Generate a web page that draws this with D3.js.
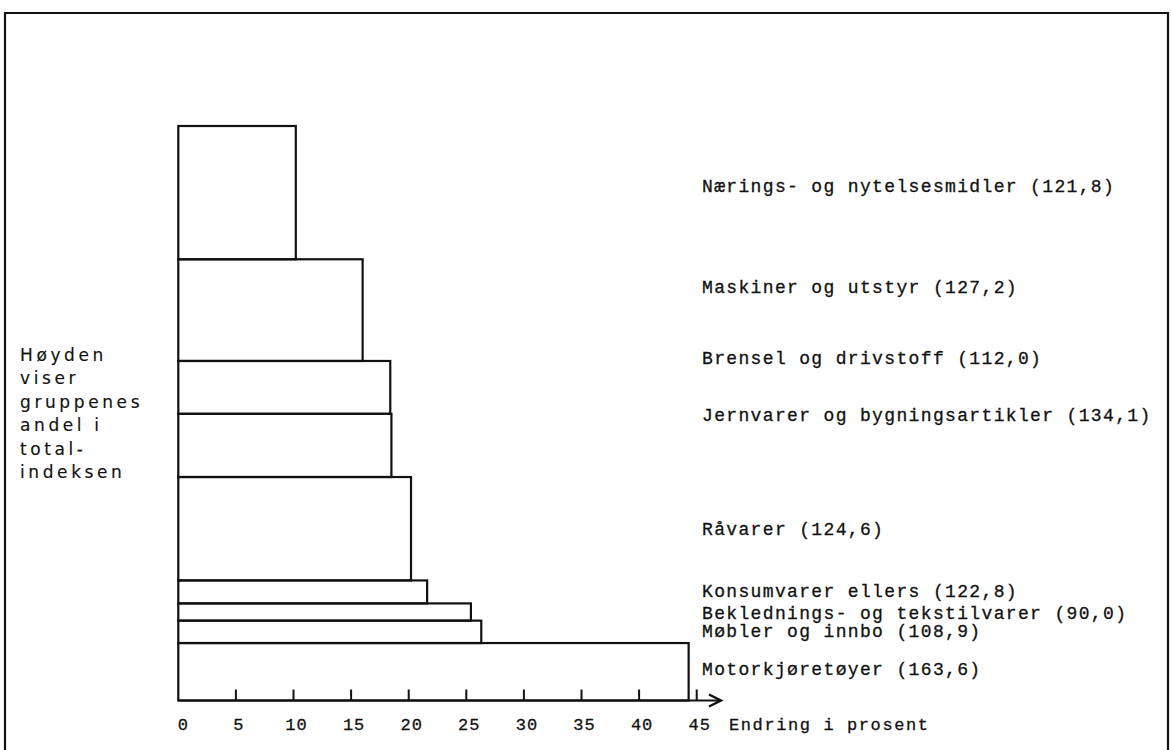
<!DOCTYPE html>
<html>
<head>
<meta charset="utf-8">
<script src="https://cdn.jsdelivr.net/npm/d3@7/dist/d3.min.js"></script>
<style>
  html, body { margin: 0; padding: 0; background: #fff; }
  svg { display: block; }
  text { font-family: "Liberation Mono", "DejaVu Sans Mono", monospace; fill: #111; stroke: #111; stroke-width: 0.3; }
  text.ytitle { font-family: "DejaVu Sans", "Noto Sans", sans-serif; stroke-width: 0.15; }
</style>
</head>
<body>
<svg id="chart" width="1172" height="750"></svg>
<script>
// ---- DATA (top to bottom as drawn) ----
const categories = [
  "Nærings- og nytelsesmidler",
  "Maskiner og utstyr",
  "Brensel og drivstoff",
  "Jernvarer og bygningsartikler",
  "Råvarer",
  "Konsumvarer ellers",
  "Beklednings- og tekstilvarer",
  "Møbler og innbo",
  "Motorkjøretøyer"
];
const indexValues = ["121,8", "127,2", "112,0", "134,1", "124,6", "122,8", "90,0", "108,9", "163,6"];
// share of total index (bar height, %)
const shares = [23.2, 17.7, 9.2, 11.0, 18.0, 4.0, 3.0, 3.9, 10.0];
// change in percent (bar width)
const changes = [10.2, 16.0, 18.4, 18.5, 20.2, 21.6, 25.4, 26.3, 44.3];
const xTicks = [0, 5, 10, 15, 20, 25, 30, 35, 40, 45];
const xAxisTitle = "Endring i prosent";
const yAxisTitleLines = ["Høyden", "viser", "gruppenes", "andel i", "total-", "indeksen"];

// ---- LAYOUT ----
const svg = d3.select("#chart");
const x0 = 178.3, x45 = 696.7, yBase = 700.5, yTop = 126;
const x = d3.scaleLinear().domain([0, 45]).range([x0, x45]);
const totalShare = d3.sum(shares);
const y = d3.scaleLinear().domain([0, totalShare]).range([yBase, yTop]);

// frame
svg.append("path")
  .attr("d", "M5,760 L5,13 L1168,13 L1168,760")
  .attr("fill", "none").attr("stroke", "#111").attr("stroke-width", 2.2);

// stack from bottom
const n = categories.length;
const bars = [];
let cum = 0;
for (let i = n - 1; i >= 0; i--) {
  bars[i] = { name: categories[i], idx: indexValues[i], share: shares[i], change: changes[i], y0: cum, y1: cum + shares[i] };
  cum += shares[i];
}

svg.append("g").selectAll("rect").data(bars).join("rect")
  .attr("x", x(0))
  .attr("y", d => y(d.y1))
  .attr("width", d => x(d.change) - x(0))
  .attr("height", d => y(d.y0) - y(d.y1))
  .attr("fill", "none")
  .attr("stroke", "#111")
  .attr("stroke-width", 2.2);

// labels (baseline offsets relative to bar centre, as in the original)
const labelNudge = [-0.5, -17, -23, -24, 6.5, 5.5, 6.5, 5.5, 3];
svg.append("g").selectAll("text").data(bars).join("text")
  .attr("x", 702)
  .attr("y", (d, i) => (y(d.y0) + y(d.y1)) / 2 + labelNudge[i])
  .attr("font-size", 18)
  .attr("letter-spacing", 1.35)
  .text(d => `${d.name} (${d.idx})`);

// x axis
const axisG = svg.append("g");
axisG.append("line")
  .attr("x1", x(0)).attr("x2", 720).attr("y1", yBase).attr("y2", yBase)
  .attr("stroke", "#111").attr("stroke-width", 2.2);
axisG.append("path")
  .attr("d", `M709,${yBase - 6} L721,${yBase} L709,${yBase + 6}`)
  .attr("fill", "none").attr("stroke", "#111").attr("stroke-width", 2.4);
axisG.selectAll("line.tick").data(xTicks.filter(t => t > 0)).join("line")
  .attr("class", "tick")
  .attr("x1", d => x(d)).attr("x2", d => x(d))
  .attr("y1", yBase).attr("y2", yBase - 11)
  .attr("stroke", "#111").attr("stroke-width", 2);
axisG.selectAll("text").data(xTicks).join("text")
  .attr("x", d => x(d) + (d === 0 ? 5 : 3))
  .attr("y", 730)
  .attr("text-anchor", "middle")
  .attr("font-size", 17)
  .attr("letter-spacing", 1)
  .text(d => d);
svg.append("text")
  .attr("x", 729).attr("y", 730)
  .attr("font-size", 17)
  .attr("letter-spacing", 1.6)
  .text(xAxisTitle);

// y axis description
svg.append("g").selectAll("text").data(yAxisTitleLines).join("text")
  .attr("class", "ytitle")
  .attr("x", 20)
  .attr("y", (d, i) => 361 + i * 23.4)
  .attr("font-size", 17)
  .attr("letter-spacing", 3.6)
  .text(d => d);
</script>
</body>
</html>
